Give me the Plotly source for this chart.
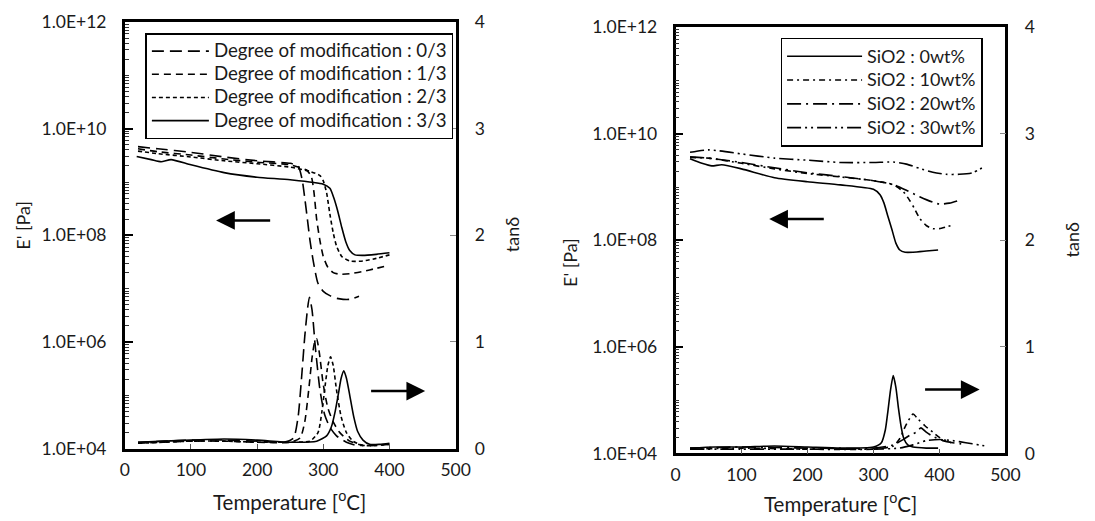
import plotly.graph_objects as go

# ---------------- data: left panel (degree of modification) ----------------
mod_names = ["Degree of modification : 0/3", "Degree of modification : 1/3",
             "Degree of modification : 2/3", "Degree of modification : 3/3"]

e_t_m0 = [20, 50, 100, 150, 200, 250, 262, 268, 272, 276, 280, 285, 292, 300, 310, 320, 330, 340, 354]
e_v_m0 = [4.6e9, 4.2e9, 3.6e9, 2.95e9, 2.5e9, 2.24e9, 2.0e9, 1.12e9, 5.0e8, 2.0e8, 7.9e7, 3.2e7,
          1.26e7, 8.9e6, 7.4e6, 6.6e6, 6.3e6, 6.3e6, 7.2e6]
e_t_m1 = [20, 50, 100, 150, 200, 250, 275, 282, 286, 290, 295, 300, 307, 315, 325, 340, 360, 380, 400]
e_v_m1 = [4.2e9, 3.7e9, 3.2e9, 2.7e9, 2.35e9, 2.1e9, 1.66e9, 1.26e9, 6.3e8, 2.0e8, 7.9e7, 4.0e7,
          2.5e7, 2.0e7, 1.86e7, 1.9e7, 2.1e7, 2.4e7, 2.75e7]
e_t_m2 = [20, 50, 100, 150, 200, 250, 280, 295, 300, 305, 310, 315, 320, 328, 340, 360, 380, 400]
e_v_m2 = [3.8e9, 3.4e9, 2.95e9, 2.5e9, 2.2e9, 1.9e9, 1.58e9, 1.32e9, 1.05e9, 6.3e8, 2.5e8, 1.12e8,
          6.3e7, 4.0e7, 3.3e7, 3.3e7, 3.7e7, 4.3e7]
e_t_m3 = [18, 40, 55, 70, 100, 150, 200, 250, 300, 310, 316, 322, 328, 334, 340, 348, 360, 380, 400]
e_v_m3 = [3.0e9, 2.63e9, 2.4e9, 2.63e9, 2.1e9, 1.5e9, 1.23e9, 1.1e9, 9.1e8, 7.6e8, 5.0e8, 2.8e8,
          1.4e8, 7.6e7, 5.2e7, 4.3e7, 4.2e7, 4.4e7, 4.7e7]

d_t_m0 = [20, 60, 100, 150, 200, 240, 255, 262, 267, 272, 276, 279, 283, 288, 295, 302, 310, 320, 335, 350, 360]
d_v_m0 = [0.06, 0.07, 0.08, 0.08, 0.07, 0.06, 0.1, 0.3, 0.65, 1.05, 1.3, 1.42, 1.3, 0.95, 0.55, 0.32,
          0.2, 0.12, 0.06, 0.03, 0.03]
d_t_m1 = [20, 60, 100, 150, 200, 250, 265, 272, 278, 283, 287, 290, 294, 300, 307, 315, 325, 340, 360, 380, 400]
d_v_m1 = [0.05, 0.06, 0.07, 0.07, 0.06, 0.06, 0.1, 0.25, 0.55, 0.85, 1.0, 1.03, 0.9, 0.6, 0.38, 0.25,
          0.15, 0.07, 0.03, 0.03, 0.04]
d_t_m2 = [20, 60, 100, 150, 200, 250, 280, 292, 298, 303, 307, 311, 315, 320, 327, 335, 345, 360, 380, 400]
d_v_m2 = [0.05, 0.06, 0.07, 0.07, 0.06, 0.06, 0.07, 0.15, 0.35, 0.6, 0.78, 0.86, 0.78, 0.55, 0.3, 0.15,
          0.07, 0.03, 0.03, 0.04]
d_t_m3 = [20, 60, 100, 150, 200, 250, 290, 305, 312, 318, 323, 327, 331, 335, 340, 346, 352, 360, 370, 385, 400]
d_v_m3 = [0.06, 0.07, 0.08, 0.09, 0.08, 0.06, 0.07, 0.12, 0.2, 0.35, 0.52, 0.66, 0.73, 0.66, 0.5, 0.3,
          0.16, 0.08, 0.04, 0.04, 0.05]

# ---------------- data: right panel (SiO2 content) ----------------
sio_names = ["SiO2 : 0wt%", "SiO2 : 10wt%", "SiO2 : 20wt%", "SiO2 : 30wt%"]

e_t_s0 = [22, 40, 55, 70, 100, 150, 200, 250, 300, 310, 316, 322, 328, 334, 340, 348, 360, 380, 398]
e_v_s0 = [3.4e9, 2.8e9, 2.5e9, 2.63e9, 2.2e9, 1.5e9, 1.26e9, 1.1e9, 9.1e8, 7.2e8, 5.0e8, 2.8e8,
          1.6e8, 8.9e7, 6.6e7, 6.0e7, 6.0e7, 6.3e7, 6.6e7]
e_t_s1 = [22, 50, 100, 150, 200, 250, 300, 330, 345, 355, 362, 370, 380, 390, 400, 410, 418]
e_v_s1 = [3.6e9, 3.5e9, 2.8e9, 2.2e9, 1.8e9, 1.55e9, 1.32e9, 1.1e9, 8.3e8, 5.6e8, 4.0e8, 2.6e8,
          1.9e8, 1.66e8, 1.66e8, 1.78e8, 1.9e8]
e_t_s2 = [22, 50, 100, 150, 200, 250, 300, 330, 350, 370, 390, 400, 415, 433]
e_v_s2 = [3.7e9, 3.5e9, 2.9e9, 2.3e9, 1.86e9, 1.58e9, 1.32e9, 1.12e9, 8.7e8, 6.6e8, 5.2e8, 4.8e8,
          5.0e8, 5.8e8]
e_t_s3 = [22, 50, 100, 150, 200, 250, 300, 330, 350, 370, 390, 410, 430, 450, 470]
e_v_s3 = [4.5e9, 5.0e9, 4.2e9, 3.5e9, 3.2e9, 2.9e9, 2.9e9, 2.95e9, 2.7e9, 2.24e9, 1.9e9, 1.74e9,
          1.74e9, 1.86e9, 2.5e9]

d_t_s0 = [22, 60, 100, 150, 200, 250, 300, 312, 318, 322, 326, 330, 334, 338, 342, 346, 352, 360, 380, 398]
d_v_s0 = [0.05, 0.06, 0.06, 0.07, 0.06, 0.05, 0.06, 0.1, 0.22, 0.4, 0.6, 0.73, 0.62, 0.42, 0.25, 0.14,
          0.08, 0.06, 0.05, 0.05]
d_t_s1 = [22, 100, 200, 300, 330, 340, 348, 355, 360, 368, 378, 390, 400, 410, 418]
d_v_s1 = [0.04, 0.05, 0.04, 0.04, 0.07, 0.14, 0.25, 0.33, 0.37, 0.32, 0.26, 0.2, 0.15, 0.12, 0.1]
d_t_s2 = [22, 100, 200, 300, 330, 345, 355, 365, 372, 380, 390, 405, 420, 433]
d_v_s2 = [0.05, 0.06, 0.05, 0.05, 0.08, 0.13, 0.17, 0.2, 0.24, 0.2, 0.16, 0.12, 0.1, 0.09]
d_t_s3 = [22, 100, 200, 300, 340, 360, 380, 400, 420, 440, 460, 470]
d_v_s3 = [0.04, 0.04, 0.04, 0.04, 0.05, 0.08, 0.12, 0.13, 0.12, 0.1, 0.08, 0.07]

e_tickvals = [1e4, 1e6, 1e8, 1e10, 1e12]
e_ticktext = ["1.0E+04", "1.0E+06", "1.0E+08", "1.0E+10", "1.0E+12"]
t_tickvals = [0, 100, 200, 300, 400, 500]
d_tickvals = [0, 1, 2, 3, 4]

# ---------------- styles ----------------
FONT = "Lato"
TXT = "#1a1a1a"
mod_dash = ["12px,6px", "7px,5px", "4px,3px", "solid"]
sio_dash = ["solid", "6px,4px,2px,4px", "14px,5px,2px,5px", "14px,4px,2px,4px,2px,4px"]

def big(label, size):
    return '<span style="font-size:%spx">%s</span>' % (size, label)

fig = go.Figure()

left_e = [(e_t_m0, e_v_m0), (e_t_m1, e_v_m1), (e_t_m2, e_v_m2), (e_t_m3, e_v_m3)]
left_d = [(d_t_m0, d_v_m0), (d_t_m1, d_v_m1), (d_t_m2, d_v_m2), (d_t_m3, d_v_m3)]
right_e = [(e_t_s0, e_v_s0), (e_t_s1, e_v_s1), (e_t_s2, e_v_s2), (e_t_s3, e_v_s3)]
right_d = [(d_t_s0, d_v_s0), (d_t_s1, d_v_s1), (d_t_s2, d_v_s2), (d_t_s3, d_v_s3)]

for i, name in enumerate(mod_names):
    ln = dict(color="black", width=1.6, dash=mod_dash[i], shape="spline", smoothing=0.6)
    fig.add_trace(go.Scatter(x=left_e[i][0], y=left_e[i][1], mode="lines", line=ln, name=big(name, 18.7),
                             xaxis="x", yaxis="y", legend="legend", legendgroup=name))
    fig.add_trace(go.Scatter(x=left_d[i][0], y=left_d[i][1], mode="lines", line=ln, name=name,
                             xaxis="x", yaxis="y2", showlegend=False, legendgroup=name))

for i, name in enumerate(sio_names):
    ln = dict(color="black", width=1.6, dash=sio_dash[i], shape="spline", smoothing=0.6)
    fig.add_trace(go.Scatter(x=right_e[i][0], y=right_e[i][1], mode="lines", line=ln, name=big(name, 18),
                             xaxis="x2", yaxis="y3", legend="legend2", legendgroup=name))
    fig.add_trace(go.Scatter(x=right_d[i][0], y=right_d[i][1], mode="lines", line=ln, name=name,
                             xaxis="x2", yaxis="y4", showlegend=False, legendgroup=name))

W, H = 1095, 521
def px_x(p):
    return p / W
def px_y(p):
    return 1 - p / H

minor_vals = [k * 10 ** n for n in range(4, 12) for k in range(1, 10) if not (k == 1 and n % 2 == 0)]

tickfont = dict(family=FONT, size=17.5, color=TXT)

def xaxis_def(dom, anchor):
    return dict(domain=dom, anchor=anchor, range=[0, 500], tickvals=t_tickvals,
                ticks="inside", ticklen=5, tickwidth=1.2, tickcolor="#555",
                showline=True, mirror=True, linecolor="black", linewidth=2.5,
                showgrid=False, zeroline=False, tickfont=tickfont, ticklabelstandoff=4)

def yaxis_log(dom, anchor):
    return dict(domain=dom, anchor=anchor, type="log", range=[4, 12],
                tickvals=e_tickvals, ticktext=e_ticktext,
                ticks="inside", ticklen=8, tickwidth=1.5, tickcolor="black",
                minor=dict(tickvals=minor_vals, ticks="inside", ticklen=4, tickwidth=1.2, tickcolor="#333"),
                showline=True, linecolor="black", linewidth=2.5,
                showgrid=False, zeroline=False, tickfont=tickfont, ticklabelstandoff=12)

def yaxis_tan(overlay, anchor):
    return dict(overlaying=overlay, anchor=anchor, side="right", range=[0, 4], tickvals=d_tickvals,
                ticks="inside", ticklen=6, tickwidth=1.2, tickcolor="#888",
                showline=True, linecolor="black", linewidth=2.5,
                showgrid=False, zeroline=False, tickfont=tickfont, ticklabelstandoff=13)

L_dom_x = [px_x(122), px_x(459)]
R_dom_x = [px_x(683), px_x(1019)]
L_dom_y = [px_y(456), px_y(11.5)]
R_dom_y = [px_y(461), px_y(17)]

def legend_def(x, y, iw, fs, ew):
    d = dict(x=px_x(x), y=px_y(y), font=dict(family=FONT, size=fs, color=TXT), bgcolor="white",
             bordercolor="black", borderwidth=1.5, xanchor="left", yanchor="top",
             itemwidth=iw, tracegroupgap=0)
    if ew:
        d.update(entrywidth=ew, entrywidthmode="pixels")
    return d

fig.update_layout(
    width=W, height=H, margin=dict(l=0, r=0, t=0, b=0),
    paper_bgcolor="white", plot_bgcolor="white",
    font=dict(family=FONT, color=TXT),
    xaxis=xaxis_def(L_dom_x, "y"),
    yaxis=yaxis_log(L_dom_y, "x"),
    yaxis2=yaxis_tan("y", "x"),
    xaxis2=xaxis_def(R_dom_x, "y3"),
    yaxis3=yaxis_log(R_dom_y, "x2"),
    yaxis4=yaxis_tan("y3", "x2"),
    legend=legend_def(143, 23, 57, 15.5, None),
    legend2=legend_def(790, 28, 75, 16, 130),
)

title_font = dict(family=FONT, size=20.5, color=TXT)
ann = []
for (x, y, t, ang) in [(18, 223, "E' [Pa]", -90), (516, 233, "tanδ", -90),
                       (576, 262, "E' [Pa]", -90), (1087, 239, "tanδ", -90),
                       (290, 510, "Temperature [<sup>o</sup>C]", 0),
                       (851, 512, "Temperature [<sup>o</sup>C]", 0)]:
    ann.append(dict(x=px_x(x), y=px_y(y), xref="paper", yref="paper", text=t, showarrow=False,
                    textangle=ang, font=title_font if ang == 0 else dict(family=FONT, size=18, color=TXT),
                    xanchor="center", yanchor="middle"))

arrow_style = dict(showarrow=True, arrowhead=2, arrowsize=1.5, arrowwidth=2.5, arrowcolor="black",
                   text="", standoff=0, startstandoff=0)
ann.append(dict(x=138, y=8.28, ax=222, ay=8.28, xref="x", yref="y", axref="x", ayref="y", **arrow_style))
ann.append(dict(x=454, y=0.54, ax=370, ay=0.54, xref="x", yref="y2", axref="x", ayref="y2", **arrow_style))
ann.append(dict(x=142, y=8.40, ax=227, ay=8.40, xref="x2", yref="y3", axref="x2", ayref="y3", **arrow_style))
ann.append(dict(x=461, y=0.60, ax=376, ay=0.60, xref="x2", yref="y4", axref="x2", ayref="y4", **arrow_style))
fig.update_layout(annotations=ann)

fig.write_html("out.html")
